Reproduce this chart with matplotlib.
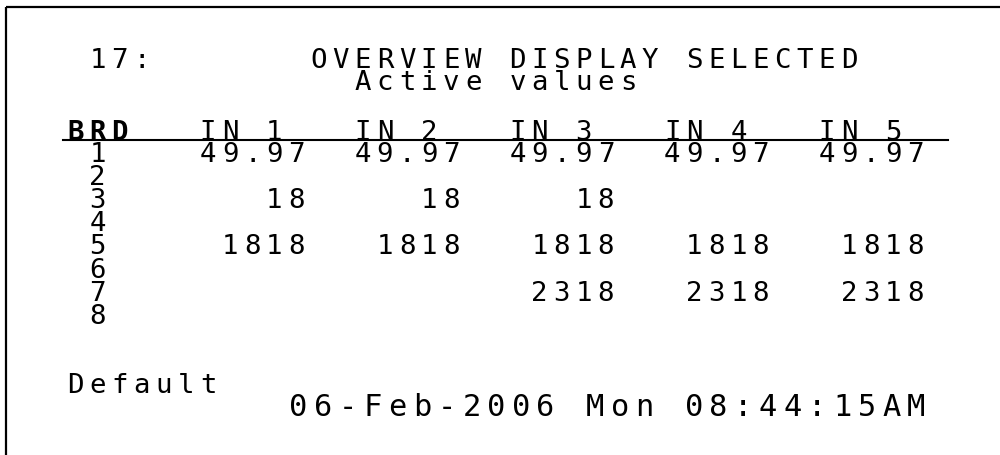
import matplotlib
matplotlib.use("Agg")
import matplotlib.pyplot as plt

# ---- data ----
screen_id = "17:"
title = "OVERVIEW DISPLAY SELECTED"
subtitle = "Active values"
board_header = "BRD"
inputs = ["IN 1", "IN 2", "IN 3", "IN 4", "IN 5"]
boards = [1, 2, 3, 4, 5, 6, 7, 8]
values_brd1 = [49.97, 49.97, 49.97, 49.97, 49.97]
values_brd3 = [18, 18, 18, None, None]
values_brd5 = [1818, 1818, 1818, 1818, 1818]
values_brd7 = [None, None, 2318, 2318, 2318]
footer_left = "Default"
timestamp = "06-Feb-2006 Mon 08:44:15AM"

board_values = {1: values_brd1, 3: values_brd3, 5: values_brd5, 7: values_brd7}

# ---- layout (screen character grid, in pixels) ----
X0, PITCH = 66, 22.1
FS = 19.7
ROW0_BASE, ROW_PITCH = 162, 23.1
FONT = "DejaVu Sans Mono"

fig = plt.figure(figsize=(10, 4.55), dpi=100)
ax = fig.add_axes([0, 0, 1, 1])
ax.set_xlim(0, 1000)
ax.set_ylim(455, 0)
ax.axis("off")


def put(s, cell, base, x0=X0, pitch=PITCH, size=FS, weight="normal"):
    for k, ch in enumerate(s):
        if ch == " ":
            continue
        ax.text(x0 + (cell + k) * pitch + pitch * 0.43, base, ch,
                ha="center", va="baseline", fontsize=size,
                family=FONT, weight=weight, color="black")


# frame (top and left edges)
ax.plot([6, 1000], [7, 7], color="black", lw=1.6, solid_capstyle="butt")
ax.plot([6, 6], [7, 455], color="black", lw=1.6, solid_capstyle="butt")

# title area
put(screen_id, 1, 68)
put(title, 11, 68)
put(subtitle, 13, 90)

# header row
col_cells = [6 + 7 * j for j in range(len(inputs))]
put(board_header, 0, 140, weight="bold")
for cell, name in zip(col_cells, inputs):
    put(name, cell, 140)
ax.plot([63, 948], [140, 140], color="black", lw=1.5)

# board numbers and values
for i, b in enumerate(boards):
    base = ROW0_BASE + i * ROW_PITCH
    put(str(b), 1, base)
    vals = board_values.get(b)
    if vals is None:
        continue
    for cell, v in zip(col_cells, vals):
        if v is None:
            continue
        put(f"{v:>5}", cell, base)

# footer
put(footer_left, 0, 393)
put(timestamp, 0, 416, x0=288, pitch=24.7, size=21.9)

fig.savefig("out.png", dpi=100, facecolor="white")
